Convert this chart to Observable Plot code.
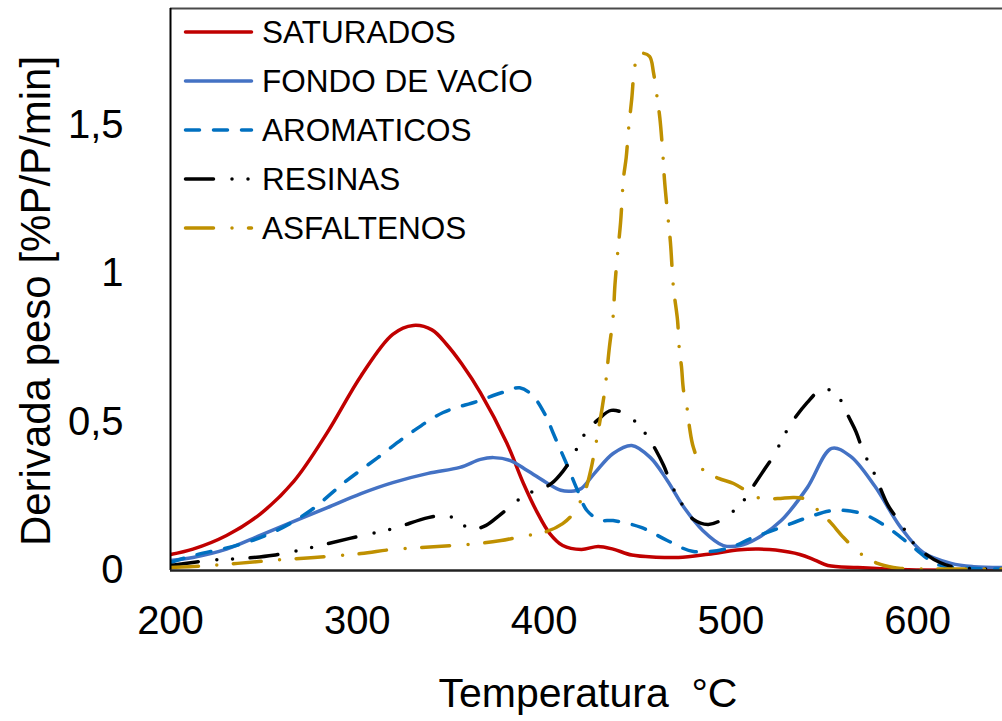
<!DOCTYPE html>
<html>
<head>
<meta charset="utf-8">
<script src="https://cdn.jsdelivr.net/npm/d3@7"></script>
<script src="https://cdn.jsdelivr.net/npm/@observablehq/plot@0.6"></script>
<style>
  html, body { margin: 0; padding: 0; background: #fff; }
  #chart { width: 1002px; height: 721px; }
</style>
</head>
<body>
<div id="chart"></div>
<script>
// DTG curves: temperature (°C) vs weight derivative (%P/P/min)
const seriesNames = ["SATURADOS", "FONDO DE VACÍO", "AROMATICOS", "RESINAS", "ASFALTENOS"];
const seriesColors = ["#C00000", "#4472C4", "#0070C0", "#000000", "#BF9000"];
const seriesDashes = [null, null, "14,14", "28,18.5,0,16,0,17.5", "28,18.5,0,16.5"];

const xTicks = [200, 300, 400, 500, 600];
const yTicks = [0, 0.5, 1, 1.5];

const saturados = [
  [200, 0.054], [212, 0.072], [230, 0.118], [248, 0.190], [266, 0.300], [284, 0.465],
  [302, 0.655], [319, 0.795], [330, 0.825], [340, 0.810], [348, 0.760], [356, 0.695],
  [366, 0.598], [380, 0.430], [389, 0.293], [396, 0.200], [403, 0.125], [410, 0.084],
  [420, 0.071], [429, 0.081], [437, 0.072], [447, 0.052], [460, 0.045], [472, 0.044],
  [488, 0.055], [505, 0.070], [515, 0.072], [524, 0.069], [537, 0.054], [545, 0.035],
  [552, 0.017], [568, 0.010], [586, 0.004], [600, 0.002], [645.5, 0.000]
];

const fondoVacio = [
  [200, 0.034], [212, 0.044], [230, 0.072], [248, 0.118], [266, 0.165], [284, 0.212],
  [302, 0.259], [319, 0.296], [338, 0.327], [355, 0.347], [366, 0.374], [373, 0.380],
  [382, 0.370], [391, 0.337], [402, 0.293], [409, 0.270], [416, 0.268], [420, 0.276],
  [427, 0.327], [437, 0.394], [447, 0.421], [457, 0.380], [466, 0.303], [475, 0.212],
  [485, 0.135], [496, 0.084], [505, 0.084], [514, 0.108], [527, 0.168], [541, 0.279],
  [554, 0.411], [564, 0.385], [577, 0.285], [591, 0.145], [603, 0.061], [618, 0.024],
  [630, 0.013], [645.5, 0.010]
];

const aromaticos = [
  [200, 0.027], [212, 0.050], [239, 0.091], [257, 0.135], [275, 0.202], [293, 0.296],
  [311, 0.380], [329, 0.465], [346, 0.532], [364, 0.569], [378, 0.600], [387, 0.615],
  [394, 0.588], [401, 0.520], [405, 0.461], [412, 0.360], [418, 0.269], [423, 0.202],
  [430, 0.170], [437, 0.168], [452, 0.145], [466, 0.101], [480, 0.064], [498, 0.074],
  [512, 0.111], [527, 0.145], [541, 0.178], [555, 0.202], [570, 0.192], [584, 0.145],
  [598, 0.077], [610, 0.022], [625, 0.008], [645.5, 0.005]
];

const resinas = [
  [200, 0.017], [221, 0.034], [237, 0.040], [255, 0.051], [275, 0.077], [296, 0.108],
  [319, 0.141], [338, 0.178], [348, 0.185], [355, 0.162], [361, 0.138], [369, 0.152],
  [376, 0.185], [384, 0.226], [391, 0.259], [397, 0.270], [404, 0.293], [410, 0.333],
  [415, 0.380], [422, 0.461], [429, 0.508], [436, 0.539], [445, 0.522], [455, 0.455],
  [460, 0.404], [464, 0.354], [469, 0.279], [475, 0.212], [480, 0.172], [488, 0.155],
  [497, 0.178], [507, 0.236], [513, 0.293], [518, 0.340], [523, 0.387], [530, 0.471],
  [535, 0.519], [541, 0.566], [548, 0.610], [551, 0.613], [559, 0.572], [563, 0.519],
  [567, 0.468], [571, 0.400], [577, 0.325], [584, 0.222], [591, 0.158], [598, 0.091],
  [604, 0.057], [612, 0.027], [621, 0.010], [645.5, 0.005]
];

const asfaltenos = [
  [200, 0.010], [210, 0.013], [221, 0.017], [236, 0.024], [254, 0.034], [277, 0.044],
  [302, 0.057], [319, 0.071], [343, 0.081], [365, 0.091], [377, 0.101], [391, 0.118],
  [400, 0.128], [410, 0.158], [416, 0.195], [422, 0.269], [425, 0.337], [427, 0.400],
  [431, 0.542], [433, 0.630], [435, 0.751], [437, 0.855], [438, 0.963], [439.4, 1.067],
  [441, 1.172], [442.6, 1.323], [444, 1.390], [445.3, 1.488], [447, 1.589], [448.5, 1.694],
  [450, 1.727], [452.2, 1.741], [456.5, 1.731], [458.6, 1.677], [460.8, 1.582],
  [462, 1.525], [463.5, 1.414], [464.5, 1.316], [466, 1.212], [467.7, 1.104],
  [469.3, 0.953], [471.5, 0.842], [472.5, 0.741], [473.6, 0.687], [474.7, 0.606],
  [477, 0.532], [478, 0.478], [480, 0.414], [485.4, 0.337], [493.5, 0.310], [501.5, 0.293],
  [510.6, 0.259], [516, 0.242], [525, 0.242], [533.6, 0.246], [539, 0.242], [542.7, 0.226],
  [548, 0.195], [553.4, 0.162], [560.4, 0.111], [569.5, 0.057], [578.6, 0.024],
  [587, 0.010], [591, 0.007], [645.5, 0.005]
];

const seriesValues = [saturados, fondoVacio, aromaticos, resinas, asfaltenos];

const xDomain = [200, 645.5];
const yDomain = [0, 1.892];

const fontFamily = "'Liberation Sans', Arial, Helvetica, sans-serif";
const lineWidth = 3.5;

const lineMarks = seriesValues.map((vals, i) =>
  Plot.line(vals.map(([t, v]) => ({t, v, serie: seriesNames[i]})), {
    x: "t",
    y: "v",
    curve: "catmull-rom",
    stroke: seriesColors[i],
    strokeWidth: lineWidth,
    strokeDasharray: seriesDashes[i] ?? undefined,
    strokeLinecap: "round",
    strokeLinejoin: "round",
    clip: true
  })
);

const chart = Plot.plot({
  width: 1002,
  height: 721,
  marginLeft: 170,
  marginRight: 0,
  marginTop: 8,
  marginBottom: 151,
  style: {fontFamily, color: "#000", background: "#fff", overflow: "visible"},
  x: {domain: xDomain},
  y: {domain: yDomain},
  marks: [
    Plot.axisX({ticks: xTicks, tickSize: 0, tickPadding: 35, fontSize: 40, label: null, tickFormat: d => String(d)}),
    Plot.axisY({ticks: yTicks, tickSize: 0, tickPadding: 47, fontSize: 40, label: null,
      tickFormat: d => String(d).replace(".", ",")}),
    Plot.ruleY([yDomain[1]], {stroke: "#4a4a4a", strokeWidth: 2}),
    ...lineMarks,
    Plot.ruleX([xDomain[0]], {stroke: "#000", strokeWidth: 2}),
    Plot.ruleY([0], {stroke: "#222", strokeWidth: 2.5})
  ]
});

document.getElementById("chart").appendChild(chart);

const svg = d3.select(chart);

// axis titles
svg.append("text")
  .attr("x", 588)
  .attr("y", 707)
  .attr("text-anchor", "middle")
  .attr("font-family", fontFamily)
  .attr("font-size", 41)
  .attr("fill", "#000")
  .style("white-space", "pre")
  .text("Temperatura  °C");

svg.append("text")
  .attr("transform", "translate(50,301) rotate(-90)")
  .attr("text-anchor", "middle")
  .attr("font-family", fontFamily)
  .attr("font-size", 42)
  .attr("fill", "#000")
  .text("Derivada peso [%P/P/min]");

// legend in the upper-left corner of the plot area
const legend = svg.append("g")
  .attr("font-family", fontFamily)
  .attr("font-size", 31.5)
  .attr("text-anchor", "start")
  .attr("fill", "#000");

seriesNames.forEach((name, i) => {
  const yBase = 43 + 49 * i;
  legend.append("line")
    .attr("x1", 185.5).attr("x2", 251.5)
    .attr("y1", yBase - 11).attr("y2", yBase - 11)
    .attr("stroke", seriesColors[i])
    .attr("stroke-width", lineWidth)
    .attr("stroke-linecap", "round")
    .attr("stroke-dasharray", seriesDashes[i] ?? null);
  legend.append("text")
    .attr("x", 262)
    .attr("y", yBase)
    .attr("text-anchor", "start")
    .text(name);
});
</script>
</body>
</html>
